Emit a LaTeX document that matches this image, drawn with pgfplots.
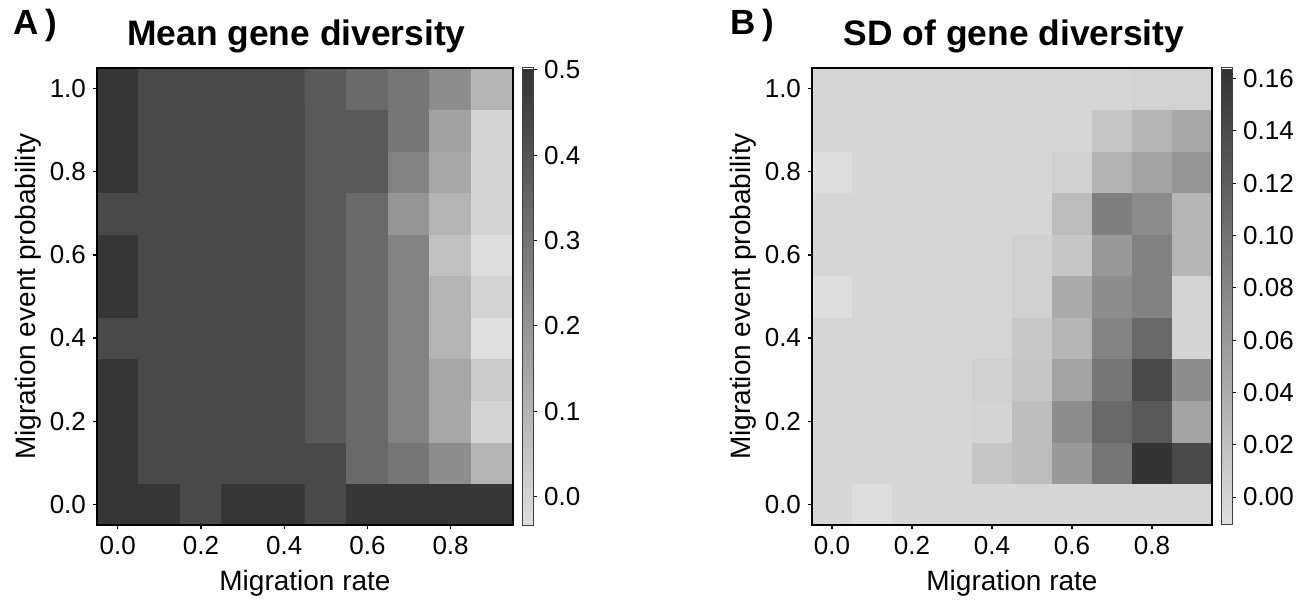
\documentclass[border=0pt]{standalone}
\usepackage{pgfplots}
\pgfplotsset{compat=1.18}
\usepackage{fontspec}
\setmainfont{Liberation Sans}

\pgfplotsset{
  hm/.style={
    scale only axis,
    height=228.5pt,
    xmin=-0.05, xmax=0.95, ymin=-0.05, ymax=1.05,
    enlargelimits=false,
    axis on top,
    xtick={0,0.2,0.4,0.6,0.8},
    ytick={0,0.2,0.4,0.6,0.8,1.0},
    tick align=outside,
    xtick pos=bottom, ytick pos=left,
    major tick length=2pt,
    tick style={black, line width=0.6pt},
    axis line style={line width=0.7pt},
    /pgf/number format/fixed,
    /pgf/number format/fixed zerofill,
    /pgf/number format/precision=1,
    /pgf/number format/assume math mode=true,
    ticklabel style={font=\fontsize{13}{13}\selectfont},
    xlabel={Migration rate},
    ylabel={Migration event probability},
    label style={font=\fontsize{14}{14}\selectfont},
    xlabel style={at={(axis description cs:0.5,0)}, anchor=base, yshift=-32.5pt},
    colormap={gr}{rgb255(0cm)=(223,223,223); rgb255(1cm)=(51,51,51)},
    colorbar,
  },
  cb/.style={
    at={(parent axis.north east)}, anchor=north west, xshift=-4pt,
    scale only axis, width=5.5pt, height=228.5pt,
    tick align=outside, major tick length=2pt,
    ytick pos=right, yticklabel pos=right,
    tick style={black, line width=0.5pt},
    axis line style={black!75, line width=0.5pt},
    yticklabel style={font=\fontsize{13}{13}\selectfont,
      /pgf/number format/fixed, /pgf/number format/fixed zerofill,
      /pgf/number format/assume math mode=true},
  }
}

\begin{document}
\begin{tikzpicture}
\path[use as bounding box] (0,0) rectangle (653.5pt,300pt);

\node[anchor=base west, inner sep=0pt, font=\bfseries\fontsize{17.5}{17.5}\selectfont] at (6.5pt,282.5pt) {A\hspace{3.5pt})};
\node[anchor=base, inner sep=0pt, font=\bfseries\fontsize{17.7}{17.7}\selectfont] at (148.25pt,277pt) {Mean gene diversity};
\node[anchor=base west, inner sep=0pt, font=\bfseries\fontsize{17.5}{17.5}\selectfont] at (365pt,282.5pt) {B\hspace{3.5pt})};
\node[anchor=base, inner sep=0pt, font=\bfseries\fontsize{17.7}{17.7}\selectfont] at (507pt,277pt) {SD of gene diversity};

\begin{axis}[hm, at={(48.5pt,37.5pt)}, anchor=south west, width=208pt,
  ylabel style={at={(axis description cs:-0.149,0.5)}, anchor=base},
  point meta min=-0.033, point meta max=0.502,
  colorbar style={cb, ytick={0,0.1,0.2,0.3,0.4,0.5},
    yticklabel style={/pgf/number format/precision=1}}]
\addplot[matrix plot*, mesh/cols=10, point meta=explicit] coordinates {
(0,0)[0.49] (0.1,0)[0.49] (0.2,0)[0.43] (0.3,0)[0.49] (0.4,0)[0.49] (0.5,0)[0.43] (0.6,0)[0.49] (0.7,0)[0.49] (0.8,0)[0.49] (0.9,0)[0.49]
(0,0.1)[0.49] (0.1,0.1)[0.43] (0.2,0.1)[0.43] (0.3,0.1)[0.43] (0.4,0.1)[0.43] (0.5,0.1)[0.43] (0.6,0.1)[0.33] (0.7,0.1)[0.29] (0.8,0.1)[0.22] (0.9,0.1)[0.10]
(0,0.2)[0.49] (0.1,0.2)[0.43] (0.2,0.2)[0.43] (0.3,0.2)[0.43] (0.4,0.2)[0.43] (0.5,0.2)[0.38] (0.6,0.2)[0.33] (0.7,0.2)[0.25] (0.8,0.2)[0.14] (0.9,0.2)[0.00]
(0,0.3)[0.49] (0.1,0.3)[0.43] (0.2,0.3)[0.43] (0.3,0.3)[0.43] (0.4,0.3)[0.43] (0.5,0.3)[0.38] (0.6,0.3)[0.33] (0.7,0.3)[0.25] (0.8,0.3)[0.14] (0.9,0.3)[0.03]
(0,0.4)[0.43] (0.1,0.4)[0.43] (0.2,0.4)[0.43] (0.3,0.4)[0.43] (0.4,0.4)[0.43] (0.5,0.4)[0.38] (0.6,0.4)[0.33] (0.7,0.4)[0.25] (0.8,0.4)[0.10] (0.9,0.4)[-0.033]
(0,0.5)[0.49] (0.1,0.5)[0.43] (0.2,0.5)[0.43] (0.3,0.5)[0.43] (0.4,0.5)[0.43] (0.5,0.5)[0.38] (0.6,0.5)[0.33] (0.7,0.5)[0.25] (0.8,0.5)[0.10] (0.9,0.5)[0.00]
(0,0.6)[0.49] (0.1,0.6)[0.43] (0.2,0.6)[0.43] (0.3,0.6)[0.43] (0.4,0.6)[0.43] (0.5,0.6)[0.38] (0.6,0.6)[0.33] (0.7,0.6)[0.25] (0.8,0.6)[0.06] (0.9,0.6)[-0.027]
(0,0.7)[0.43] (0.1,0.7)[0.43] (0.2,0.7)[0.43] (0.3,0.7)[0.43] (0.4,0.7)[0.43] (0.5,0.7)[0.38] (0.6,0.7)[0.33] (0.7,0.7)[0.20] (0.8,0.7)[0.10] (0.9,0.7)[0.00]
(0,0.8)[0.49] (0.1,0.8)[0.43] (0.2,0.8)[0.43] (0.3,0.8)[0.43] (0.4,0.8)[0.43] (0.5,0.8)[0.38] (0.6,0.8)[0.38] (0.7,0.8)[0.25] (0.8,0.8)[0.14] (0.9,0.8)[0.00]
(0,0.9)[0.49] (0.1,0.9)[0.43] (0.2,0.9)[0.43] (0.3,0.9)[0.43] (0.4,0.9)[0.43] (0.5,0.9)[0.38] (0.6,0.9)[0.38] (0.7,0.9)[0.29] (0.8,0.9)[0.16] (0.9,0.9)[0.00]
(0,1.0)[0.49] (0.1,1.0)[0.43] (0.2,1.0)[0.43] (0.3,1.0)[0.43] (0.4,1.0)[0.43] (0.5,1.0)[0.38] (0.6,1.0)[0.33] (0.7,1.0)[0.29] (0.8,1.0)[0.22] (0.9,1.0)[0.10]
};
\end{axis}

\begin{axis}[hm, at={(406pt,37.5pt)}, anchor=south west, width=200pt,
  ylabel style={at={(axis description cs:-0.155,0.5)}, anchor=base},
  point meta min=-0.0107, point meta max=0.164,
  colorbar style={cb, ytick={0,0.02,0.04,0.06,0.08,0.10,0.12,0.14,0.16},
    yticklabel style={/pgf/number format/precision=2}}]
\addplot[matrix plot*, mesh/cols=10, point meta=explicit] coordinates {
(0,0)[-0.002] (0.1,0)[-0.010] (0.2,0)[-0.002] (0.3,0)[-0.002] (0.4,0)[-0.002] (0.5,0)[-0.002] (0.6,0)[-0.002] (0.7,0)[-0.002] (0.8,0)[-0.002] (0.9,0)[-0.002]
(0,0.1)[-0.002] (0.1,0.1)[-0.002] (0.2,0.1)[-0.002] (0.3,0.1)[-0.002] (0.4,0.1)[0.015] (0.5,0.1)[0.023] (0.6,0.1)[0.060] (0.7,0.1)[0.095] (0.8,0.1)[0.162] (0.9,0.1)[0.141]
(0,0.2)[-0.002] (0.1,0.2)[-0.002] (0.2,0.2)[-0.002] (0.3,0.2)[-0.002] (0.4,0.2)[0.000] (0.5,0.2)[0.023] (0.6,0.2)[0.072] (0.7,0.2)[0.108] (0.8,0.2)[0.124] (0.9,0.2)[0.050]
(0,0.3)[-0.002] (0.1,0.3)[-0.002] (0.2,0.3)[-0.002] (0.3,0.3)[-0.002] (0.4,0.3)[0.004] (0.5,0.3)[0.015] (0.6,0.3)[0.050] (0.7,0.3)[0.095] (0.8,0.3)[0.141] (0.9,0.3)[0.072]
(0,0.4)[-0.002] (0.1,0.4)[-0.002] (0.2,0.4)[-0.002] (0.3,0.4)[-0.002] (0.4,0.4)[-0.002] (0.5,0.4)[0.012] (0.6,0.4)[0.032] (0.7,0.4)[0.081] (0.8,0.4)[0.108] (0.9,0.4)[0.000]
(0,0.5)[-0.010] (0.1,0.5)[-0.002] (0.2,0.5)[-0.002] (0.3,0.5)[-0.002] (0.4,0.5)[-0.002] (0.5,0.5)[0.004] (0.6,0.5)[0.043] (0.7,0.5)[0.072] (0.8,0.5)[0.083] (0.9,0.5)[0.000]
(0,0.6)[-0.002] (0.1,0.6)[-0.002] (0.2,0.6)[-0.002] (0.3,0.6)[-0.002] (0.4,0.6)[-0.002] (0.5,0.6)[0.004] (0.6,0.6)[0.015] (0.7,0.6)[0.061] (0.8,0.6)[0.084] (0.9,0.6)[0.032]
(0,0.7)[-0.002] (0.1,0.7)[-0.002] (0.2,0.7)[-0.002] (0.3,0.7)[-0.002] (0.4,0.7)[-0.002] (0.5,0.7)[-0.002] (0.6,0.7)[0.025] (0.7,0.7)[0.086] (0.8,0.7)[0.074] (0.9,0.7)[0.032]
(0,0.8)[-0.010] (0.1,0.8)[-0.002] (0.2,0.8)[-0.002] (0.3,0.8)[-0.002] (0.4,0.8)[-0.002] (0.5,0.8)[-0.002] (0.6,0.8)[0.004] (0.7,0.8)[0.034] (0.8,0.8)[0.050] (0.9,0.8)[0.064]
(0,0.9)[-0.002] (0.1,0.9)[-0.002] (0.2,0.9)[-0.002] (0.3,0.9)[-0.002] (0.4,0.9)[-0.002] (0.5,0.9)[-0.002] (0.6,0.9)[-0.002] (0.7,0.9)[0.015] (0.8,0.9)[0.032] (0.9,0.9)[0.045]
(0,1.0)[-0.002] (0.1,1.0)[-0.002] (0.2,1.0)[-0.002] (0.3,1.0)[-0.002] (0.4,1.0)[-0.002] (0.5,1.0)[-0.002] (0.6,1.0)[-0.002] (0.7,1.0)[-0.002] (0.8,1.0)[0.002] (0.9,1.0)[0.002]
};
\end{axis}
\end{tikzpicture}
\end{document}
